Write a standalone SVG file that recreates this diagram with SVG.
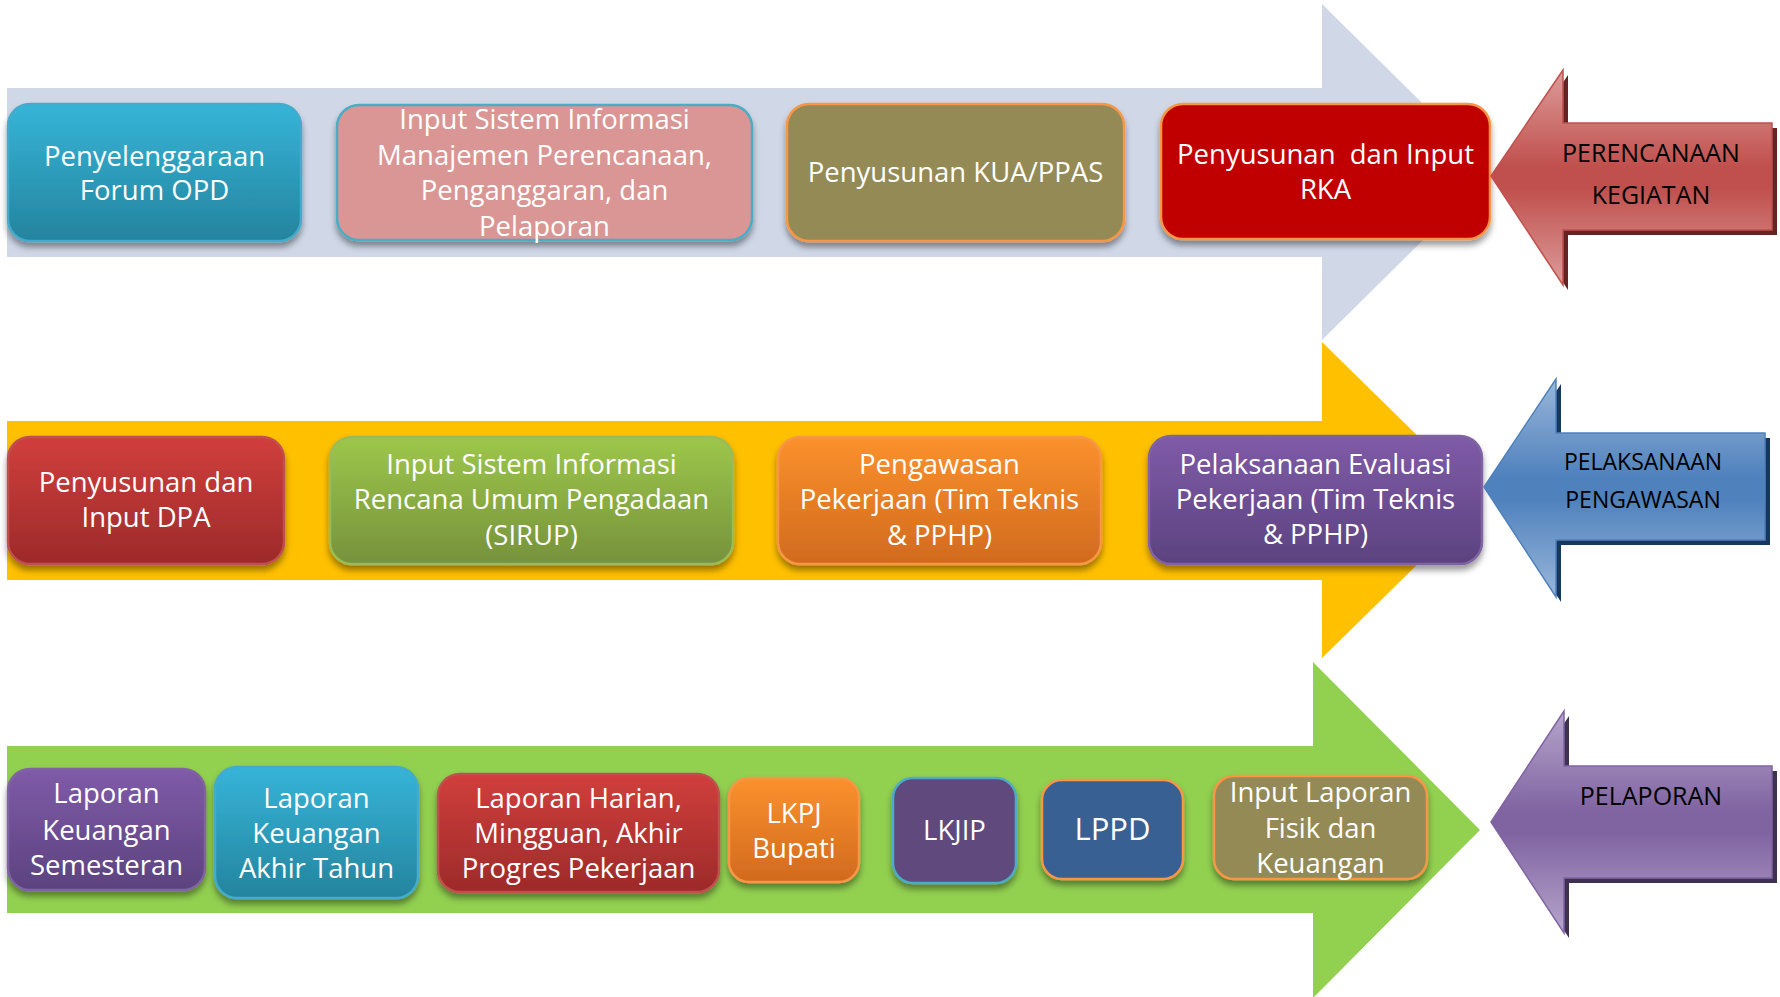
<svg xmlns="http://www.w3.org/2000/svg" width="1780" height="997" viewBox="0 0 1780 997">
  <defs>
    <filter id="shadow" x="-10%" y="-10%" width="120%" height="130%">
      <feDropShadow dx="0" dy="5" stdDeviation="3" flood-color="#000" flood-opacity="0.4"/>
    </filter>
    <linearGradient id="gCyan" x1="0" y1="0" x2="0" y2="1">
      <stop offset="0" stop-color="#36B4D8"/><stop offset="1" stop-color="#24849E"/>
    </linearGradient>
    <linearGradient id="gRed" x1="0" y1="0" x2="0" y2="1">
      <stop offset="0" stop-color="#D03F3C"/><stop offset="1" stop-color="#9D2A2A"/>
    </linearGradient>
    <linearGradient id="gGreen" x1="0" y1="0" x2="0" y2="1">
      <stop offset="0" stop-color="#9DC74B"/><stop offset="1" stop-color="#76923B"/>
    </linearGradient>
    <linearGradient id="gOrange" x1="0" y1="0" x2="0" y2="1">
      <stop offset="0" stop-color="#FB912D"/><stop offset="1" stop-color="#D16A1E"/>
    </linearGradient>
    <linearGradient id="gPurple" x1="0" y1="0" x2="0" y2="1">
      <stop offset="0" stop-color="#7F5BA8"/><stop offset="1" stop-color="#5C427F"/>
    </linearGradient>
    <linearGradient id="aRed" x1="0" y1="0" x2="0" y2="1">
      <stop offset="0" stop-color="#DC9C9A"/><stop offset="0.45" stop-color="#C0504D"/><stop offset="0.55" stop-color="#C0504D"/><stop offset="1" stop-color="#DC9C9A"/>
    </linearGradient>
    <linearGradient id="aBlue" x1="0" y1="0" x2="0" y2="1">
      <stop offset="0" stop-color="#9AB7DA"/><stop offset="0.45" stop-color="#4F81BD"/><stop offset="0.55" stop-color="#4F81BD"/><stop offset="1" stop-color="#9AB7DA"/>
    </linearGradient>
    <linearGradient id="aPurple" x1="0" y1="0" x2="0" y2="1">
      <stop offset="0" stop-color="#B6A5CB"/><stop offset="0.45" stop-color="#8064A2"/><stop offset="0.55" stop-color="#8064A2"/><stop offset="1" stop-color="#B6A5CB"/>
    </linearGradient>
    <style>
      .box { filter: url(#shadow); stroke-width: 2.5; }
      .lbl { font-family: "Open Sans", "Liberation Sans", sans-serif; font-size: 27.5px; fill: #FFFFFF; text-anchor: middle; }
      .side { font-family: "Open Sans", "Liberation Sans", sans-serif; font-size: 25px; fill: #000000; text-anchor: middle; }
    </style>
  </defs>

  <rect width="1780" height="997" fill="#FFFFFF"/>

  <!-- process flow arrows behind each row -->
  <g id="connectors">
    <path d="M7,88 L1322,88 L1322,4 L1492,172 L1322,340 L1322,257 L7,257 Z" fill="#D0D8E8"/>
    <path d="M7,421 L1322,421 L1322,342 L1483,500 L1322,658 L1322,580 L7,580 Z" fill="#FFC000"/>
    <path d="M7,746 L1313,746 L1313,662 L1480,830 L1313,998 L1313,913 L7,913 Z" fill="#92D050"/>
  </g>

  <!-- row 1: planning -->
  <g id="forum-opd">
    <rect class="box" x="8" y="104" width="293" height="137" rx="22" fill="url(#gCyan)" stroke="#44ABCB"/>
    <text class="lbl" x="154.5" y="166">Penyelenggaraan</text>
    <text class="lbl" x="154.5" y="200">Forum OPD</text>
  </g>
  <g id="simral">
    <rect class="box" x="337" y="105" width="415" height="135" rx="22" fill="#D99694" stroke="#4BACC6"/>
    <text class="lbl" x="544.5" y="129">Input Sistem Informasi</text>
    <text class="lbl" x="544.5" y="165">Manajemen Perencanaan,</text>
    <text class="lbl" x="544.5" y="200">Penganggaran, dan</text>
    <text class="lbl" x="544.5" y="236">Pelaporan</text>
  </g>
  <g id="kua-ppas">
    <rect class="box" x="787" y="104" width="337" height="137" rx="22" fill="#948A54" stroke="#F79646"/>
    <text class="lbl" x="955.5" y="182">Penyusunan KUA/PPAS</text>
  </g>
  <g id="rka">
    <rect class="box" x="1161" y="104" width="329" height="135" rx="22" fill="#C00000" stroke="#F79646"/>
    <text class="lbl" x="1325.5" y="164" xml:space="preserve">Penyusunan  dan Input</text>
    <text class="lbl" x="1325.5" y="199">RKA</text>
  </g>

  <!-- row 2: execution -->
  <g id="dpa">
    <rect class="box" x="8" y="437" width="276" height="127" rx="22" fill="url(#gRed)" stroke="#C0504D"/>
    <text class="lbl" x="146" y="492">Penyusunan dan</text>
    <text class="lbl" x="146" y="527">Input DPA</text>
  </g>
  <g id="sirup">
    <rect class="box" x="330" y="437" width="403" height="127" rx="22" fill="url(#gGreen)" stroke="#9BBB59"/>
    <text class="lbl" x="531.5" y="474">Input Sistem Informasi</text>
    <text class="lbl" x="531.5" y="509">Rencana Umum Pengadaan</text>
    <text class="lbl" x="531.5" y="545">(SIRUP)</text>
  </g>
  <g id="pengawasan">
    <rect class="box" x="778" y="437" width="323" height="127" rx="22" fill="url(#gOrange)" stroke="#F79646"/>
    <text class="lbl" x="939.5" y="474">Pengawasan</text>
    <text class="lbl" x="939.5" y="509">Pekerjaan (Tim Teknis</text>
    <text class="lbl" x="939.5" y="545">&amp; PPHP)</text>
  </g>
  <g id="evaluasi">
    <rect class="box" x="1149" y="436" width="333" height="128" rx="22" fill="url(#gPurple)" stroke="#8064A2"/>
    <text class="lbl" x="1315.5" y="474">Pelaksanaan Evaluasi</text>
    <text class="lbl" x="1315.5" y="509">Pekerjaan (Tim Teknis</text>
    <text class="lbl" x="1315.5" y="544">&amp; PPHP)</text>
  </g>

  <!-- row 3: reporting -->
  <g id="lap-semesteran">
    <rect class="box" x="8" y="769" width="197" height="121" rx="22" fill="url(#gPurple)" stroke="#8064A2"/>
    <text class="lbl" x="106.5" y="803">Laporan</text>
    <text class="lbl" x="106.5" y="840">Keuangan</text>
    <text class="lbl" x="106.5" y="875">Semesteran</text>
  </g>
  <g id="lap-akhir-tahun">
    <rect class="box" x="215" y="767" width="203" height="131" rx="22" fill="url(#gCyan)" stroke="#44ABCB"/>
    <text class="lbl" x="316.5" y="808">Laporan</text>
    <text class="lbl" x="316.5" y="843">Keuangan</text>
    <text class="lbl" x="316.5" y="878">Akhir Tahun</text>
  </g>
  <g id="lap-harian">
    <rect class="box" x="438" y="774" width="281" height="118" rx="22" fill="url(#gRed)" stroke="#C0504D"/>
    <text class="lbl" x="578.5" y="808">Laporan Harian,</text>
    <text class="lbl" x="578.5" y="843">Mingguan, Akhir</text>
    <text class="lbl" x="578.5" y="878">Progres Pekerjaan</text>
  </g>
  <g id="lkpj">
    <rect class="box" x="729" y="778" width="130" height="104" rx="20" fill="url(#gOrange)" stroke="#F79646"/>
    <text class="lbl" x="794" y="823">LKPJ</text>
    <text class="lbl" x="794" y="858">Bupati</text>
  </g>
  <g id="lkjip">
    <rect class="box" x="893" y="778" width="123" height="105" rx="20" fill="#604A7B" stroke="#4BACC6"/>
    <text class="lbl" x="954.5" y="840">LKJIP</text>
  </g>
  <g id="lppd">
    <rect class="box" x="1042" y="780" width="141" height="99" rx="20" fill="#376092" stroke="#F79646"/>
    <text class="lbl" x="1112.5" y="840" style="font-size:31px">LPPD</text>
  </g>
  <g id="lap-fisik">
    <rect class="box" x="1214" y="776" width="213" height="103" rx="20" fill="#948A54" stroke="#F79646"/>
    <text class="lbl" x="1320.5" y="802">Input Laporan</text>
    <text class="lbl" x="1320.5" y="838">Fisik dan</text>
    <text class="lbl" x="1320.5" y="873">Keuangan</text>
  </g>

  <!-- stage arrows on the right -->
  <g id="perencanaan">
    <path d="M1496,181 L1568,75 L1568,128 L1777,128 L1777,235 L1568,235 L1568,290 Z" fill="#632523"/>
    <path d="M1491,176 L1563,70 L1563,123 L1772,123 L1772,230 L1563,230 L1563,285 Z" fill="url(#aRed)" stroke="#C0504D" stroke-width="1.5"/>
    <text class="side" x="1651" y="162">PERENCANAAN</text>
    <text class="side" x="1651" y="204">KEGIATAN</text>
  </g>
  <g id="pelaksanaan">
    <path d="M1489,492 L1561,384 L1561,438 L1770,438 L1770,545 L1561,545 L1561,602 Z" fill="#17375E"/>
    <path d="M1484,487 L1556,379 L1556,433 L1765,433 L1765,540 L1556,540 L1556,597 Z" fill="url(#aBlue)" stroke="#4F81BD" stroke-width="1.5"/>
    <text class="side" x="1643" y="470" style="font-size:23px">PELAKSANAAN</text>
    <text class="side" x="1643" y="508" style="font-size:23px">PENGAWASAN</text>
  </g>
  <g id="pelaporan">
    <path d="M1496,827 L1569,716 L1569,771 L1777,771 L1777,883 L1569,883 L1569,938 Z" fill="#3F3151"/>
    <path d="M1491,822 L1564,711 L1564,766 L1772,766 L1772,878 L1564,878 L1564,933 Z" fill="url(#aPurple)" stroke="#8064A2" stroke-width="1.5"/>
    <text class="side" x="1651" y="805">PELAPORAN</text>
  </g>
</svg>
